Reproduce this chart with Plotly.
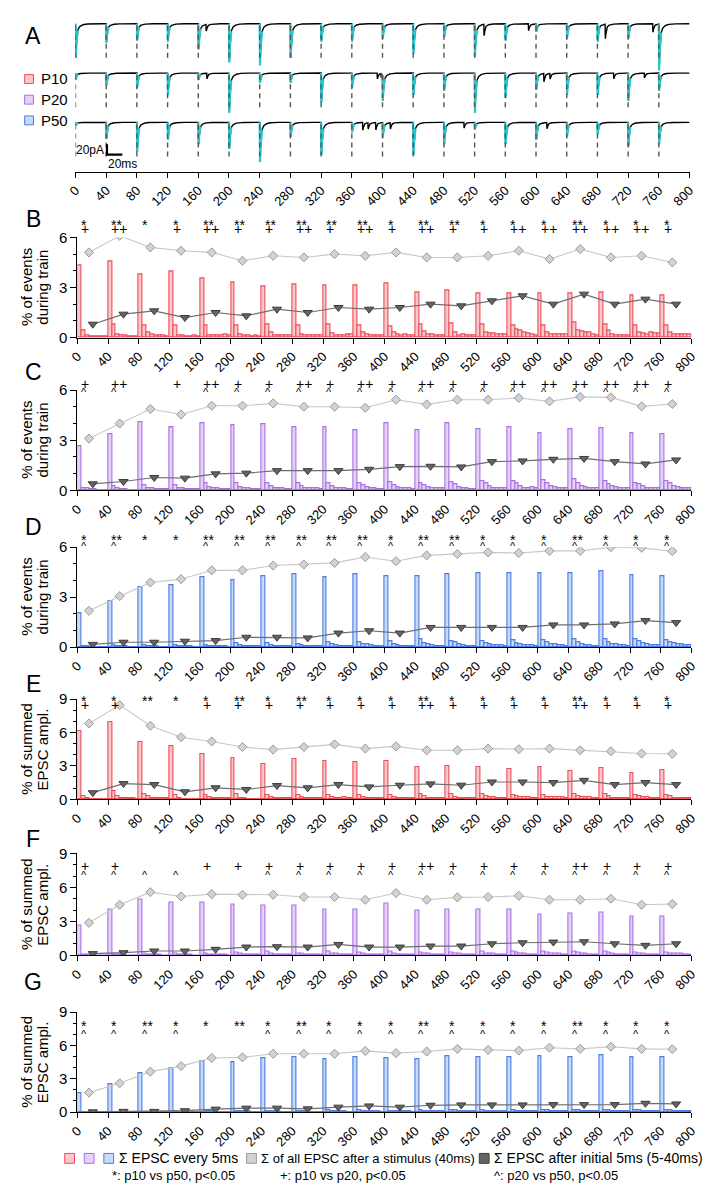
import numpy as np
import plotly.graph_objects as go

W, H = 720, 1192


def fx(p):
    return p / W


def fy(p):
    return 1 - p / H


# ---------------------------------------------------------------- data
STIM_MS = [40 * k for k in range(20)]          # stimulus times (ms)
TICKS = list(range(0, 801, 40))

# Panel A: peak EPSC amplitude (pA) evoked by each stimulus, one list per age
A_P10_PEAK = [66, 36, 32, 34, 49, 74, 80, 66, 34, 34, 28, 57, 25, 63, 32, 15, 28, 34, 28, 89]
A_P20_PEAK = [13, 23, 28, 42, 13, 76, 19, 19, 57, 28, 51, 42, 34, 76, 47, 32, 42, 42, 53, 34]
A_P50_PEAK = [6, 32, 57, 34, 42, 51, 76, 28, 63, 19, 28, 63, 42, 13, 42, 34, 28, 23, 46, 42]
# asynchronous events (time ms, amplitude pA)
A_P10_ASYNC_T = [170, 532, 590, 690, 752]
A_P10_ASYNC_A = [13, 22, 13, 28, 16]
A_P20_ASYNC_T = [171, 393, 398, 610, 618, 701, 741]
A_P20_ASYNC_A = [11, 11, 8, 16, 11, 11, 9]
A_P50_ASYNC_T = [374, 381, 391, 410, 506, 614]
A_P50_ASYNC_A = [15, 12, 14, 12, 11, 12]

# Panels B-D: % of events during train
# first 5-ms bin after each stimulus
B_FIRST = [4.33, 4.59, 3.80, 3.94, 3.54, 3.31, 3.05, 3.19, 3.15, 3.11,
           3.25, 2.70, 2.80, 2.66, 2.64, 2.66, 2.64, 2.70, 2.52, 2.50]
# remaining seven 5-ms bins of each 40-ms interval
B_LATER = [
    [0.45, 0.10, 0.05, 0.05, 0.05, 0.05, 0.05], [0.80, 0.20, 0.15, 0.10, 0.05, 0.05, 0.05],
    [0.70, 0.30, 0.20, 0.15, 0.10, 0.10, 0.05], [0.70, 0.15, 0.10, 0.05, 0.05, 0.10, 0.05],
    [0.70, 0.15, 0.10, 0.10, 0.15, 0.20, 0.10], [0.70, 0.20, 0.10, 0.10, 0.05, 0.10, 0.05],
    [0.80, 0.30, 0.15, 0.10, 0.15, 0.10, 0.10], [0.70, 0.20, 0.15, 0.10, 0.10, 0.15, 0.10],
    [0.80, 0.25, 0.10, 0.10, 0.15, 0.20, 0.20], [0.70, 0.30, 0.20, 0.15, 0.15, 0.10, 0.10],
    [0.65, 0.30, 0.20, 0.15, 0.20, 0.15, 0.15], [0.80, 0.35, 0.20, 0.20, 0.15, 0.15, 0.15],
    [0.85, 0.30, 0.15, 0.20, 0.15, 0.15, 0.10], [0.80, 0.30, 0.25, 0.25, 0.20, 0.20, 0.20],
    [0.70, 0.50, 0.40, 0.30, 0.25, 0.20, 0.15], [0.70, 0.30, 0.20, 0.20, 0.20, 0.20, 0.20],
    [0.90, 0.40, 0.35, 0.30, 0.30, 0.20, 0.15], [0.80, 0.40, 0.20, 0.15, 0.15, 0.15, 0.15],
    [0.75, 0.30, 0.25, 0.20, 0.30, 0.25, 0.25], [0.70, 0.30, 0.20, 0.20, 0.20, 0.20, 0.20]]
B_TOTAL = [5.1, 6.1, 5.4, 5.2, 5.1, 4.6, 4.9, 4.8, 5.0, 4.9,
           5.1, 4.8, 4.8, 4.9, 5.2, 4.7, 5.3, 4.8, 4.9, 4.5]
B_LATE = [0.8, 1.4, 1.6, 1.2, 1.5, 1.3, 1.7, 1.5, 1.8, 1.7,
          1.8, 2.0, 1.9, 2.2, 2.5, 2.0, 2.6, 2.0, 2.3, 2.0]

C_FIRST = [2.66, 3.39, 4.09, 3.79, 4.05, 3.93, 3.97, 3.79, 3.79, 3.63,
           4.01, 3.63, 4.03, 3.69, 3.79, 3.43, 3.65, 3.75, 3.41, 3.34]
C_LATER = [
    [0.10, 0.10, 0.05, 0.05, 0.03, 0.03, 0.03], [0.25, 0.10, 0.05, 0.05, 0.03, 0.03, 0.02],
    [0.30, 0.15, 0.10, 0.08, 0.06, 0.04, 0.04], [0.30, 0.15, 0.10, 0.06, 0.04, 0.04, 0.04],
    [0.40, 0.20, 0.12, 0.10, 0.07, 0.05, 0.05], [0.45, 0.20, 0.12, 0.10, 0.06, 0.05, 0.05],
    [0.45, 0.25, 0.15, 0.10, 0.10, 0.08, 0.05], [0.40, 0.25, 0.15, 0.10, 0.12, 0.10, 0.06],
    [0.45, 0.25, 0.15, 0.10, 0.10, 0.08, 0.05], [0.40, 0.30, 0.20, 0.12, 0.10, 0.08, 0.06],
    [0.50, 0.30, 0.20, 0.15, 0.10, 0.10, 0.07], [0.45, 0.30, 0.20, 0.15, 0.14, 0.10, 0.10],
    [0.50, 0.35, 0.20, 0.10, 0.10, 0.08, 0.07], [0.55, 0.40, 0.25, 0.15, 0.12, 0.10, 0.15],
    [0.55, 0.40, 0.25, 0.15, 0.15, 0.16, 0.10], [0.60, 0.40, 0.25, 0.20, 0.15, 0.14, 0.12],
    [0.65, 0.40, 0.25, 0.20, 0.15, 0.14, 0.12], [0.55, 0.35, 0.25, 0.20, 0.15, 0.12, 0.10],
    [0.45, 0.35, 0.25, 0.15, 0.15, 0.13, 0.10], [0.55, 0.40, 0.25, 0.20, 0.15, 0.15, 0.12]]
C_TOTAL = [3.1, 4.0, 4.87, 4.54, 5.07, 5.07, 5.21, 5.01, 5.01, 4.95,
           5.43, 5.15, 5.43, 5.43, 5.53, 5.33, 5.6, 5.57, 5.03, 5.17]
C_LATE = [0.39, 0.53, 0.77, 0.73, 0.99, 1.03, 1.18, 1.18, 1.18, 1.26,
          1.42, 1.44, 1.4, 1.72, 1.76, 1.86, 1.91, 1.72, 1.58, 1.82]

D_FIRST = [2.02, 2.75, 3.59, 3.69, 4.18, 4.02, 4.24, 4.37, 4.22, 4.35,
           4.24, 4.27, 4.37, 4.41, 4.41, 4.41, 4.43, 4.55, 4.31, 4.24]
D_LATER = [
    [0.05, 0.03, 0.02, 0.02, 0.02, 0.01, 0.01], [0.12, 0.05, 0.04, 0.03, 0.02, 0.02, 0.01],
    [0.10, 0.06, 0.04, 0.03, 0.02, 0.02, 0.02], [0.12, 0.07, 0.05, 0.04, 0.03, 0.02, 0.02],
    [0.12, 0.08, 0.06, 0.04, 0.04, 0.03, 0.02], [0.25, 0.10, 0.07, 0.06, 0.04, 0.04, 0.03],
    [0.25, 0.10, 0.07, 0.06, 0.05, 0.03, 0.03], [0.20, 0.10, 0.07, 0.06, 0.05, 0.04, 0.03],
    [0.30, 0.15, 0.10, 0.08, 0.08, 0.07, 0.06], [0.30, 0.20, 0.15, 0.10, 0.08, 0.08, 0.07],
    [0.35, 0.15, 0.10, 0.08, 0.06, 0.05, 0.05], [0.45, 0.25, 0.15, 0.10, 0.08, 0.08, 0.07],
    [0.35, 0.30, 0.20, 0.12, 0.08, 0.08, 0.05], [0.35, 0.25, 0.20, 0.12, 0.10, 0.10, 0.06],
    [0.40, 0.25, 0.15, 0.12, 0.10, 0.10, 0.06], [0.40, 0.30, 0.20, 0.15, 0.10, 0.10, 0.08],
    [0.45, 0.30, 0.20, 0.12, 0.10, 0.08, 0.08], [0.45, 0.30, 0.20, 0.15, 0.12, 0.10, 0.07],
    [0.50, 0.35, 0.25, 0.15, 0.12, 0.12, 0.10], [0.40, 0.30, 0.25, 0.15, 0.15, 0.12, 0.10]]
D_TOTAL = [2.18, 3.06, 3.88, 4.08, 4.61, 4.61, 4.9, 4.96, 5.06, 5.41,
           5.16, 5.51, 5.59, 5.69, 5.65, 5.78, 5.78, 6.0, 5.96, 5.76]
D_LATE = [0.16, 0.29, 0.29, 0.35, 0.39, 0.59, 0.59, 0.55, 0.84, 0.98,
          0.84, 1.18, 1.18, 1.18, 1.18, 1.33, 1.33, 1.39, 1.59, 1.47]

# Panels E-G: % of summed EPSC amplitude
E_FIRST = [6.1, 6.95, 5.13, 4.78, 4.05, 3.72, 3.14, 3.61, 3.43, 3.31,
           3.43, 2.87, 3.02, 2.87, 2.73, 2.87, 2.58, 2.84, 2.4, 2.64]
E_LATER = [
    [0.30, 0.10, 0.05, 0.05, 0.03, 0.03, 0.03], [0.70, 0.25, 0.15, 0.10, 0.08, 0.07, 0.06],
    [0.50, 0.25, 0.15, 0.15, 0.10, 0.10, 0.07], [0.35, 0.10, 0.06, 0.05, 0.04, 0.04, 0.03],
    [0.40, 0.20, 0.10, 0.10, 0.08, 0.08, 0.07], [0.45, 0.15, 0.07, 0.06, 0.06, 0.05, 0.04],
    [0.40, 0.20, 0.15, 0.15, 0.12, 0.11, 0.10], [0.40, 0.20, 0.10, 0.10, 0.08, 0.08, 0.07],
    [0.35, 0.20, 0.15, 0.15, 0.17, 0.15, 0.15], [0.40, 0.20, 0.15, 0.10, 0.10, 0.08, 0.08],
    [0.35, 0.20, 0.15, 0.15, 0.15, 0.13, 0.13], [0.50, 0.25, 0.15, 0.15, 0.12, 0.11, 0.10],
    [0.45, 0.20, 0.15, 0.15, 0.11, 0.10, 0.10], [0.45, 0.25, 0.20, 0.20, 0.15, 0.15, 0.15],
    [0.40, 0.25, 0.20, 0.20, 0.20, 0.15, 0.15], [0.35, 0.20, 0.20, 0.20, 0.20, 0.20, 0.15],
    [0.50, 0.30, 0.20, 0.20, 0.20, 0.15, 0.15], [0.45, 0.25, 0.15, 0.15, 0.12, 0.10, 0.10],
    [0.40, 0.30, 0.20, 0.20, 0.15, 0.15, 0.10], [0.40, 0.25, 0.15, 0.15, 0.13, 0.12, 0.12]]
E_TOTAL = [6.8, 8.45, 6.6, 5.57, 5.19, 4.69, 4.46, 4.69, 4.93, 4.55,
           4.75, 4.4, 4.4, 4.55, 4.49, 4.55, 4.4, 4.31, 4.11, 4.08]
E_LATE = [0.59, 1.41, 1.32, 0.67, 1.03, 0.88, 1.23, 1.03, 1.32, 1.11,
          1.26, 1.38, 1.26, 1.55, 1.55, 1.5, 1.7, 1.32, 1.5, 1.32]

F_FIRST = [2.63, 4.09, 4.97, 4.68, 4.71, 4.53, 4.42, 4.39, 4.09, 4.09,
           4.56, 3.95, 4.09, 4.04, 4.04, 3.6, 3.68, 3.8, 3.45, 3.39]
F_LATER = [
    [0.05, 0.03, 0.02, 0.02, 0.01, 0.01, 0.01], [0.10, 0.04, 0.03, 0.02, 0.02, 0.01, 0.01],
    [0.15, 0.07, 0.05, 0.04, 0.03, 0.02, 0.02], [0.12, 0.08, 0.06, 0.05, 0.03, 0.02, 0.02],
    [0.20, 0.10, 0.08, 0.06, 0.04, 0.03, 0.02], [0.25, 0.15, 0.10, 0.08, 0.06, 0.05, 0.04],
    [0.30, 0.15, 0.10, 0.08, 0.05, 0.04, 0.04], [0.20, 0.15, 0.10, 0.10, 0.08, 0.05, 0.05],
    [0.30, 0.20, 0.15, 0.10, 0.08, 0.07, 0.06], [0.25, 0.15, 0.10, 0.08, 0.06, 0.05, 0.04],
    [0.30, 0.15, 0.10, 0.06, 0.05, 0.04, 0.03], [0.25, 0.15, 0.12, 0.10, 0.08, 0.07, 0.05],
    [0.25, 0.15, 0.12, 0.10, 0.08, 0.07, 0.05], [0.30, 0.20, 0.15, 0.12, 0.10, 0.08, 0.07],
    [0.30, 0.25, 0.15, 0.13, 0.10, 0.10, 0.08], [0.30, 0.25, 0.18, 0.14, 0.12, 0.10, 0.08],
    [0.35, 0.25, 0.18, 0.14, 0.10, 0.10, 0.08], [0.30, 0.25, 0.15, 0.10, 0.08, 0.07, 0.07],
    [0.25, 0.20, 0.12, 0.10, 0.08, 0.07, 0.06], [0.25, 0.20, 0.15, 0.12, 0.12, 0.10, 0.08]]
F_TOTAL = [2.87, 4.47, 5.58, 5.2, 5.41, 5.35, 5.35, 5.15, 5.15, 4.91,
           5.5, 4.91, 5.12, 5.15, 5.26, 4.91, 4.91, 5.0, 4.47, 4.53]
F_LATE = [0.15, 0.23, 0.38, 0.38, 0.53, 0.73, 0.76, 0.73, 0.96, 0.73,
          0.73, 0.82, 0.82, 1.02, 1.11, 1.17, 1.2, 1.02, 0.88, 1.02]

G_FIRST = [1.66, 2.48, 3.5, 3.99, 4.58, 4.52, 4.87, 4.93, 4.72, 4.93,
           4.87, 4.72, 5.07, 4.93, 4.93, 5.07, 4.96, 5.16, 4.93, 4.93]
G_LATER = [
    [0.01, 0.01, 0.00, 0.00, 0.00, 0.00, 0.00], [0.02, 0.01, 0.01, 0.01, 0.01, 0.00, 0.00],
    [0.02, 0.01, 0.01, 0.01, 0.01, 0.00, 0.00], [0.04, 0.02, 0.02, 0.01, 0.01, 0.01, 0.01],
    [0.08, 0.05, 0.04, 0.03, 0.02, 0.02, 0.02], [0.10, 0.07, 0.05, 0.04, 0.03, 0.03, 0.03],
    [0.12, 0.07, 0.05, 0.04, 0.03, 0.02, 0.02], [0.09, 0.06, 0.04, 0.03, 0.03, 0.02, 0.02],
    [0.13, 0.09, 0.07, 0.05, 0.04, 0.03, 0.03], [0.15, 0.12, 0.09, 0.07, 0.05, 0.04, 0.03],
    [0.12, 0.09, 0.07, 0.05, 0.04, 0.04, 0.03], [0.15, 0.12, 0.10, 0.08, 0.06, 0.05, 0.05],
    [0.16, 0.13, 0.10, 0.08, 0.07, 0.05, 0.05], [0.15, 0.12, 0.10, 0.09, 0.07, 0.06, 0.05],
    [0.16, 0.12, 0.10, 0.08, 0.07, 0.06, 0.05], [0.16, 0.13, 0.11, 0.09, 0.07, 0.06, 0.05],
    [0.17, 0.13, 0.10, 0.09, 0.07, 0.06, 0.05], [0.16, 0.13, 0.11, 0.09, 0.07, 0.06, 0.05],
    [0.20, 0.15, 0.12, 0.10, 0.08, 0.07, 0.07], [0.18, 0.14, 0.12, 0.10, 0.07, 0.06, 0.06]]
G_TOTAL = [1.75, 2.59, 3.64, 4.14, 4.87, 4.93, 5.25, 5.25, 5.25, 5.51,
           5.31, 5.45, 5.69, 5.6, 5.54, 5.8, 5.69, 5.89, 5.69, 5.66]
G_LATE = [0.02, 0.06, 0.06, 0.12, 0.26, 0.35, 0.35, 0.29, 0.44, 0.55,
          0.44, 0.61, 0.64, 0.64, 0.64, 0.67, 0.67, 0.67, 0.79, 0.73]

# significance marks per stimulus (upper row, lower row)
B_SIG1 = ["*", "**", "*", "*", "**", "**", "**", "**", "**", "**", "*", "**", "**", "*", "*", "*", "**", "*", "*", "*"]
B_SIG2 = ["+", "++", "", "+", "++", "+", "+", "++", "+", "++", "+", "++", "+", "+", "++", "++", "++", "++", "++", "+"]
C_SIG1 = ["+", "++", "", "+", "++", "+", "+", "++", "+", "++", "+", "++", "+", "+", "++", "++", "++", "++", "++", "+"]
C_SIG2 = ["^", "^", "", "", "^", "^", "^", "^", "^", "^", "^", "^", "^", "^", "^", "^", "^", "^", "^", "^"]
D_SIG1 = ["*", "**", "*", "*", "**", "**", "**", "**", "**", "**", "*", "**", "**", "*", "*", "*", "**", "*", "*", "*"]
D_SIG2 = ["^", "^", "", "", "^", "^", "^", "^", "^", "^", "^", "^", "^", "^", "^", "^", "^", "^", "^", "^"]
E_SIG1 = ["*", "*", "**", "*", "*", "**", "*", "**", "*", "*", "*", "**", "*", "*", "*", "*", "**", "*", "*", "*"]
E_SIG2 = ["+", "+", "", "", "+", "+", "+", "+", "+", "+", "+", "++", "+", "+", "+", "+", "++", "+", "+", "+"]
F_SIG1 = ["+", "+", "", "", "+", "+", "+", "+", "+", "+", "+", "++", "+", "+", "+", "+", "++", "+", "+", "+"]
F_SIG2 = ["^", "^", "^", "^", "", "", "^", "^", "^", "^", "^", "^", "^", "^", "^", "^", "^", "^", "^", "^"]
G_SIG1 = ["*", "*", "**", "*", "*", "**", "*", "**", "*", "*", "*", "**", "*", "*", "*", "*", "**", "*", "*", "*"]
G_SIG2 = ["^", "^", "^", "^", "", "", "^", "^", "^", "^", "^", "^", "^", "^", "^", "^", "^", "^", "^", "^"]

# ---------------------------------------------------------------- styling
RED = ("rgb(236,78,88)", "rgb(250,200,204)")
PURPLE = ("rgb(168,112,226)", "rgb(230,210,248)")
BLUE = ("rgb(74,124,226)", "rgb(200,218,248)")
CYAN = "rgb(38,200,206)"
LIGHT_MK, LIGHT_EDGE, LIGHT_LINE = "#d2d2d2", "#9a9a9a", "#c8c8c8"
DARK_MK, DARK_EDGE, DARK_LINE = "#646464", "#3c3c3c", "#6e6e6e"
FONT = "Liberation Sans, Arial, sans-serif"

XDOM = [fx(70), fx(698)]
PANELS = [
    # key, first, later, total, late, colours, top, y px (top, bottom), title, sig rows, letter y
    ("B", B_FIRST, B_LATER, B_TOTAL, B_LATE, RED, 6, (231.7, 333.3),
     ("% of events", "during train"), [(B_SIG1, 219), (B_SIG2, 223)], 213),
    ("C", C_FIRST, C_LATER, C_TOTAL, C_LATE, PURPLE, 6, (386.7, 488.3),
     ("% of events", "during train"), [(C_SIG1, 380), (C_SIG2, 389)], 368),
    ("D", D_FIRST, D_LATER, D_TOTAL, D_LATE, BLUE, 6, (546.0, 647.3),
     ("% of events", "during train"), [(D_SIG1, 539), (D_SIG2, 545)], 525),
    ("E", E_FIRST, E_LATER, E_TOTAL, E_LATE, RED, 9, (700.0, 801.7),
     ("% of summed", "EPSC ampl."), [(E_SIG1, 702), (E_SIG2, 706)], 685),
    ("F", F_FIRST, F_LATER, F_TOTAL, F_LATE, PURPLE, 9, (856.7, 960.0),
     ("% of summed", "EPSC ampl."), [(F_SIG1, 869), (F_SIG2, 879)], 842),
    ("G", G_FIRST, G_LATER, G_TOTAL, G_LATE, BLUE, 9, (1017.7, 1119.0),
     ("% of summed", "EPSC ampl."), [(G_SIG1, 1032), (G_SIG2, 1040)], 987),
]

fig = go.Figure()
annotations = []
shapes = []
layout = dict(
    width=W, height=H, margin=dict(l=0, r=0, t=0, b=0),
    paper_bgcolor="white", plot_bgcolor="rgba(0,0,0,0)", showlegend=False,
    font=dict(family=FONT, color="black"), bargap=0, barmode="overlay",
)


def x_axis(domain, anchor):
    return dict(domain=domain, range=[0, 800], anchor=anchor, showline=True,
                linecolor="black", linewidth=1.2, ticks="outside", ticklen=5,
                tickwidth=1.1, tickcolor="black", tickmode="array", tickvals=TICKS,
                ticktext=[str(v) for v in TICKS], tickangle=-45,
                tickfont=dict(size=13, family=FONT), showgrid=False, zeroline=False)


# ---------------------------------------------------------------- panel A
A_TOP, A_BOT = 10, 165
A_RANGE = [-285, 9.5]
layout["xaxis"] = x_axis([fx(68), fx(696)], "y")
layout["yaxis"] = dict(domain=[fy(A_BOT), fy(A_TOP)], range=A_RANGE, visible=False)

t = np.round(np.arange(0, 800.001, 0.2), 3)


def epsc_shape(tt):
    out = np.zeros_like(tt)
    m = tt >= 0
    x = tt[m]
    out[m] = (np.exp(-x / 0.8) - np.exp(-x / 0.2)) + 0.2 * (np.exp(-x / 4.0) - np.exp(-x / 0.2))
    return out


SHAPE_PEAK = epsc_shape(np.arange(0, 20, 0.01)).max()

rows = [(A_P10_PEAK, A_P10_ASYNC_T, A_P10_ASYNC_A),
        (A_P20_PEAK, A_P20_ASYNC_T, A_P20_ASYNC_A),
        (A_P50_PEAK, A_P50_ASYNC_T, A_P50_ASYNC_A)]
ROW_STEP = 95.0
dash_x, dash_y = [], []
for r, (peaks, ev_t, ev_a) in enumerate(rows):
    base = -ROW_STEP * r
    y = np.full_like(t, base)
    for s, a in zip(STIM_MS, peaks):
        y -= a * epsc_shape(t - s) / SHAPE_PEAK
    for s, a in zip(ev_t, ev_a):
        y -= a * epsc_shape(t - s) / SHAPE_PEAK
    fig.add_trace(go.Scatter(x=t, y=y, mode="lines", line=dict(color="black", width=1.4),
                             xaxis="x", yaxis="y", hoverinfo="skip"))
    cx, cy = [], []
    phase = np.mod(t, 40)
    for i in range(len(t)):
        if phase[i] <= 3.0:
            cx.append(t[i])
            cy.append(y[i])
        elif cx and cx[-1] is not None:
            cx.append(None)
            cy.append(None)
    fig.add_trace(go.Scatter(x=cx, y=cy, mode="lines", line=dict(color=CYAN, width=2.2),
                             xaxis="x", yaxis="y", hoverinfo="skip"))
    for s in STIM_MS:
        dash_x += [s, s, None]
        dash_y += [base - 4, base - 68, None]

fig.add_trace(go.Scatter(x=dash_x, y=dash_y, mode="lines",
                         line=dict(color="#555555", width=1.4, dash="5px,4px"),
                         xaxis="x", yaxis="y", hoverinfo="skip"))

# scale bar 20 pA / 20 ms
fig.add_trace(go.Scatter(x=[41, 41, 61], y=[-232, -252, -252], mode="lines",
                         line=dict(color="black", width=2.2), xaxis="x", yaxis="y",
                         hoverinfo="skip"))
annotations.append(dict(x=40, y=-244, xref="x", yref="y", text="20pA", showarrow=False,
                        xanchor="right", yanchor="middle", font=dict(size=12)))
annotations.append(dict(x=40, y=-270, xref="x", yref="y", text="20ms", showarrow=False,
                        xanchor="left", yanchor="middle", font=dict(size=12)))

# age key
for (lbl, col), ypx in zip([("P10", RED), ("P20", PURPLE), ("P50", BLUE)], [71, 92, 113]):
    shapes.append(dict(type="rect", xref="paper", yref="paper", x0=fx(16), x1=fx(25),
                       y0=fy(ypx + 4.5), y1=fy(ypx - 4.5), fillcolor=col[1],
                       line=dict(color=col[0], width=1)))
    annotations.append(dict(x=fx(31), y=fy(ypx), xref="paper", yref="paper", text=lbl,
                            showarrow=False, xanchor="left", yanchor="middle",
                            font=dict(size=15)))

annotations.append(dict(x=fx(25), y=fy(27), xref="paper", yref="paper", text="A",
                        showarrow=False, xanchor="center", yanchor="middle",
                        font=dict(size=23)))

# ---------------------------------------------------------------- panels B-G
bin_centres = [2.5 + 5 * i for i in range(160)]
for idx, (key, first, later, total, late, col, top, (ptop, pbot), title, sigs, lab_y) in enumerate(PANELS):
    n = idx + 2
    xa, ya = f"x{n}", f"y{n}"
    layout[f"xaxis{n}"] = x_axis(XDOM, ya)
    layout[f"yaxis{n}"] = dict(
        domain=[fy(pbot), fy(ptop)], range=[0, top], anchor=xa, showline=True,
        linecolor="black", linewidth=1.2, ticks="outside", ticklen=6, tickwidth=1.1,
        tickcolor="black", tickmode="array", tickvals=list(range(0, top + 1, 3)),
        tickfont=dict(size=15), showgrid=False, zeroline=False,
        minor=dict(tickmode="linear", tick0=0, dtick=1, ticks="outside", ticklen=3,
                   tickcolor="black", tickwidth=1))

    heights = []
    for f, rest in zip(first, later):
        heights += [f] + list(rest)
    fig.add_trace(go.Bar(x=bin_centres, y=heights, width=5,
                         marker=dict(color=col[1], line=dict(color=col[0], width=1.1)),
                         xaxis=xa, yaxis=ya, hoverinfo="skip"))
    fig.add_trace(go.Scatter(x=[s + 15 for s in STIM_MS], y=total, mode="lines+markers",
                             line=dict(color=LIGHT_LINE, width=1.1),
                             marker=dict(symbol="diamond", size=7, color=LIGHT_MK,
                                         line=dict(color=LIGHT_EDGE, width=1)),
                             xaxis=xa, yaxis=ya, hoverinfo="skip"))
    fig.add_trace(go.Scatter(x=[s + 20 for s in STIM_MS], y=late, mode="lines+markers",
                             line=dict(color=DARK_LINE, width=1.2),
                             marker=dict(symbol="triangle-down", size=8, color=DARK_MK,
                                         line=dict(color=DARK_EDGE, width=1)),
                             xaxis=xa, yaxis=ya, hoverinfo="skip"))

    for marks, ypx in sigs:
        for s, m in zip(STIM_MS, marks):
            if not m:
                continue
            size = 11 if m == "^" else 14
            annotations.append(dict(x=s + 1.5, y=fy(ypx), xref=xa, yref="paper", text=m,
                                    showarrow=False, xanchor="left", yanchor="middle",
                                    font=dict(size=size)))

    mid = (ptop + pbot) / 2
    annotations.append(dict(x=fx(18), y=fy(mid), xref="paper", yref="paper", text=title[0],
                            textangle=-90, showarrow=False, xanchor="center",
                            yanchor="middle", font=dict(size=15)))
    annotations.append(dict(x=fx(34), y=fy(mid), xref="paper", yref="paper", text=title[1],
                            textangle=-90, showarrow=False, xanchor="center",
                            yanchor="middle", font=dict(size=15)))
    annotations.append(dict(x=fx(25), y=fy(lab_y), xref="paper", yref="paper", text=key,
                            showarrow=False, xanchor="center", yanchor="middle",
                            font=dict(size=23)))

# ---------------------------------------------------------------- key
KEY_Y1, KEY_Y2 = 1166, 1183
for xc, col in [(62, RED), (82, PURPLE), (102, BLUE),
                (248, (LIGHT_EDGE, LIGHT_MK)), (486, (DARK_EDGE, DARK_MK))]:
    shapes.append(dict(type="rect", xref="paper", yref="paper", x0=fx(xc - 5), x1=fx(xc + 5),
                       y0=fy(KEY_Y1 + 5), y1=fy(KEY_Y1 - 5), fillcolor=col[1],
                       line=dict(color=col[0], width=1)))
for xl, txt, sz in [(110, "Σ EPSC every 5ms", 14),
                    (256, "Σ of all EPSC after a stimulus (40ms)", 13),
                    (494, "Σ EPSC after initial 5ms (5-40ms)", 14)]:
    annotations.append(dict(x=fx(xl), y=fy(KEY_Y1), xref="paper", yref="paper", text=txt,
                            showarrow=False, xanchor="left", yanchor="middle",
                            font=dict(size=sz)))
for xl, txt in [(103, "*: p10 vs p50, p<0.05"), (275, "+: p10 vs p20, p<0.05"),
                (494, "^: p20 vs p50, p<0.05")]:
    annotations.append(dict(x=fx(xl), y=fy(KEY_Y2), xref="paper", yref="paper", text=txt,
                            showarrow=False, xanchor="left", yanchor="middle",
                            font=dict(size=13)))

layout["annotations"] = annotations
layout["shapes"] = shapes
fig.update_layout(**layout)
fig.write_html("out.html")
